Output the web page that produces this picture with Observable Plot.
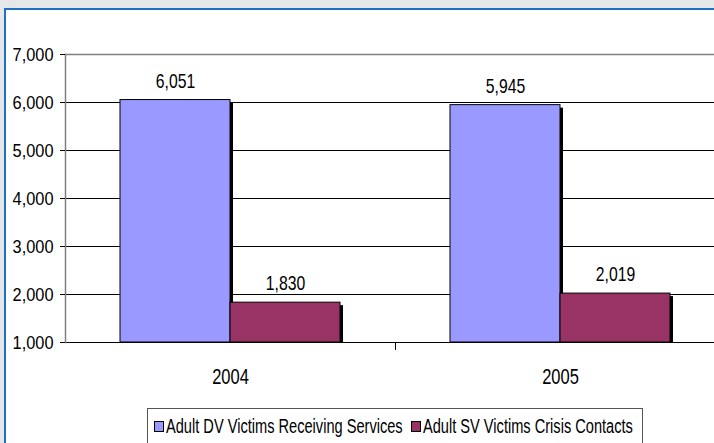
<!DOCTYPE html>
<html>
<head>
<meta charset="utf-8">
<script src="https://cdn.jsdelivr.net/npm/d3@7"></script>
<script src="https://cdn.jsdelivr.net/npm/@observablehq/plot@0.6"></script>
<style>
html, body { margin: 0; padding: 0; width: 714px; height: 443px; overflow: hidden; background: #e6e7e9; font-family: "Liberation Sans", Arial, sans-serif; }
#panel { position: absolute; left: 4px; top: 8px; width: 720px; height: 450px; background: #fff; border-left: 2px solid #1f70c1; border-top: 2px solid #1f70c1; }
#chart { position: absolute; left: 0; top: 0; }
#legend { position: absolute; left: 147px; top: 408px; width: 494px; height: 60px; border: 1px solid #555; background: #fff; }
.sw { position: absolute; width: 8px; height: 9px; border: 1px solid #000; }
.lt { position: absolute; font-size: 20px; line-height: 20px; white-space: nowrap; color: #000; transform: scaleX(0.73); transform-origin: 0 0; }
</style>
</head>
<body>
<div id="panel"></div>
<div id="chart"></div>
<div id="legend"></div>
<script>
const years = ["2004", "2005"];
const series = ["Adult DV Victims Receiving Services", "Adult SV Victims Crisis Contacts"];
const dvValues = [6051, 5945];
const svValues = [1830, 2019];
const colors = ["#9999FF", "#993366"];
const yTicks = [1000, 2000, 3000, 4000, 5000, 6000, 7000];
const yMin = 1000;
const yMax = 7000;

const data = years.flatMap((yr, i) => [
  {year: yr, series: series[0], value: dvValues[i]},
  {year: yr, series: series[1], value: svValues[i]}
]);
const fmt = d3.format(",");

const plot = Plot.plot({
  width: 725,
  height: 400,
  marginLeft: 65,
  marginRight: 0,
  marginTop: 54,
  marginBottom: 58,
  style: {background: "transparent", fontFamily: "'Liberation Sans', Arial, sans-serif", overflow: "visible", maxWidth: "none", color: "#000"},
  fx: {domain: years, padding: 0, label: null},
  x: {domain: series, paddingInner: 0, paddingOuter: 0.5, axis: null},
  y: {domain: [yMin, yMax], label: null},
  color: {domain: series, range: colors},
  marks: [
    Plot.ruleY(yTicks.filter(t => t > yMin && t < yMax), {stroke: "#000", strokeWidth: 1}),
    Plot.ruleY([yMax], {stroke: "#808080", strokeWidth: 1.5}),
    Plot.barY(data, {fx: "year", x: "series", y1: yMin, y2: "value", fill: "#000", dx: 3, dy: 3, insetBottom: 3}),
    Plot.barY(data, {fx: "year", x: "series", y1: yMin, y2: "value", fill: "series", stroke: "#000", strokeWidth: 1}),
    Plot.ruleY([yMin], {stroke: "#000", strokeWidth: 1}),
    Plot.frame({anchor: "left", fx: [years[0]], stroke: "#808080", strokeWidth: 1.5}),
    Plot.frame({anchor: "left", fx: [years[1]], stroke: "#000", insetTop: 288, insetBottom: -7}),
    Plot.axisY({ticks: yTicks, tickFormat: fmt, tickSize: 5, tickPadding: 7, fontSize: 19, label: null, stroke: "#000"}),
    Plot.axisFx({anchor: "bottom", tickSize: 0, tickPadding: 26, fontSize: 22, label: null}),
    Plot.text(data, {fx: "year", x: "series", y: "value", text: d => fmt(d.value), dy: -19, fontSize: 21, fill: "#000"})
  ]
});
document.getElementById("chart").append(plot);

// horizontally condensed lettering, as in the reference
plot.querySelectorAll("text").forEach(el => {
  const fs = parseFloat(getComputedStyle(el).fontSize);
  const r = fs <= 19 ? 0.86 : 0.75;
  const n = el.getComputedTextLength();
  if (n > 0) {
    el.setAttribute("textLength", (n * r).toFixed(1));
    el.setAttribute("lengthAdjust", "spacingAndGlyphs");
  }
});

// legend
const legend = document.getElementById("legend");
const swLeft = [6, 263];
const txLeft = [18, 275];
series.forEach((s, i) => {
  const sw = document.createElement("div");
  sw.className = "sw";
  sw.style.left = swLeft[i] + "px";
  sw.style.top = "12px";
  sw.style.background = colors[i];
  legend.append(sw);
  const t = document.createElement("div");
  t.className = "lt";
  t.style.left = txLeft[i] + "px";
  t.style.top = "7px";
  t.textContent = s;
  legend.append(t);
});
</script>
</body>
</html>
